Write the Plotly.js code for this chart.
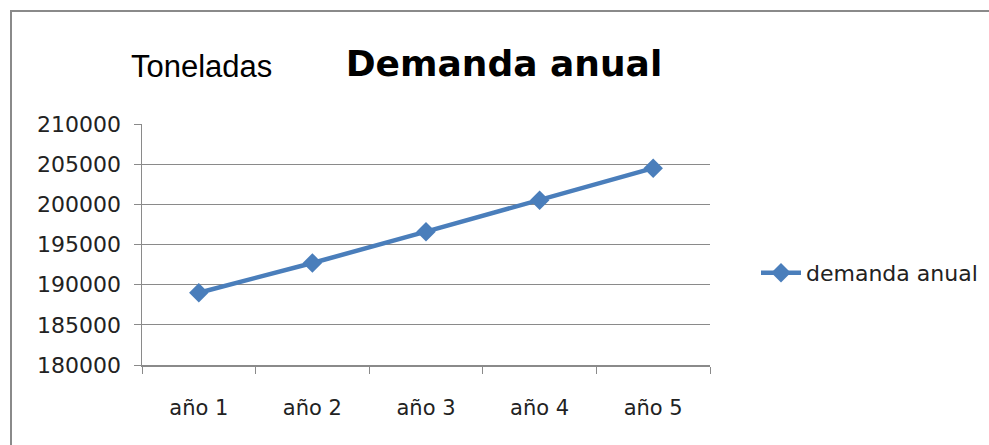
<!DOCTYPE html>
<html>
<head>
<meta charset="utf-8">
<script src="https://cdn.plot.ly/plotly-3.0.1.min.js"></script>
<style>html,body{margin:0;padding:0;background:#fff;}#chart{width:989px;height:445px;}</style>
</head>
<body>
<div id="chart"></div>
<script>
const categories = ["año 1", "año 2", "año 3", "año 4", "año 5"];
const demandaAnual = [189000, 192700, 196600, 200500, 204500];
const seriesName = "demanda anual";
const chartTitle = "Demanda anual";
const yAxisLabel = "Toneladas";

const ML = 142, MR = 279, MT = 124, MB = 80;
const W = 989, H = 445;
const pw = W - ML - MR, ph = H - MT - MB;
const px = x => (x - ML) / pw;
const py = y => (H - MB - y) / ph;

const trace = {
  x: categories,
  y: demandaAnual,
  name: seriesName,
  type: "scatter",
  mode: "lines+markers",
  line: {color: "#4a7ebb", width: 4.5},
  marker: {symbol: "diamond", size: 15, color: "#4a7ebb"}
};

const layout = {
  width: W, height: H,
  margin: {l: ML, r: MR, t: MT, b: MB, autoexpand: false},
  paper_bgcolor: "#fff", plot_bgcolor: "#fff",
  title: {text: chartTitle, xref: "container", yref: "container", x: 504 / W, xanchor: "center",
          y: 1 - 63 / H, yanchor: "middle",
          font: {family: "DejaVu Sans", size: 36, color: "#000", weight: "bold"}},
  font: {family: "DejaVu Sans", color: "#222"},
  xaxis: {
    type: "category", range: [-0.5, categories.length - 0.5], autorange: false,
    tickson: "boundaries", ticks: "outside", ticklen: 7, tickcolor: "#8a8a8a",
    showline: true, linecolor: "#8a8a8a", linewidth: 1.5, showgrid: false, zeroline: false,
    tickfont: {family: "DejaVu Sans", size: 21, color: "#222"}, ticklabelstandoff: 23
  },
  yaxis: {
    range: [180000, 210000], autorange: false, dtick: 5000, tick0: 180000, ticks: "outside", ticklen: 7, tickcolor: "#8a8a8a",
    showline: true, linecolor: "#8a8a8a", linewidth: 1.5, showgrid: true, gridcolor: "#8a8a8a", gridwidth: 1,
    zeroline: false, tickformat: "d",
    tickfont: {family: "DejaVu Sans", size: 22, color: "#222"}, ticklabelstandoff: 8
  },
  showlegend: true,
  legend: {x: px(756), xanchor: "left", y: py(273), yanchor: "middle", bgcolor: "rgba(0,0,0,0)",
           font: {family: "DejaVu Sans", size: 22, color: "#222"}, itemwidth: 40},
  annotations: [{text: yAxisLabel, xref: "paper", yref: "paper", x: px(201), y: py(66),
                 xanchor: "center", yanchor: "middle", showarrow: false,
                 font: {family: "Liberation Sans", size: 31, color: "#000"}}],
  shapes: [{type: "rect", xref: "paper", yref: "paper", x0: px(11), y0: py(460), x1: px(1010), y1: py(11),
            line: {color: "#8a8a8a", width: 2}, fillcolor: "rgba(0,0,0,0)", layer: "below"}]
};

Plotly.newPlot("chart", [trace], layout, {displayModeBar: false, staticPlot: true});
</script>
</body>
</html>
